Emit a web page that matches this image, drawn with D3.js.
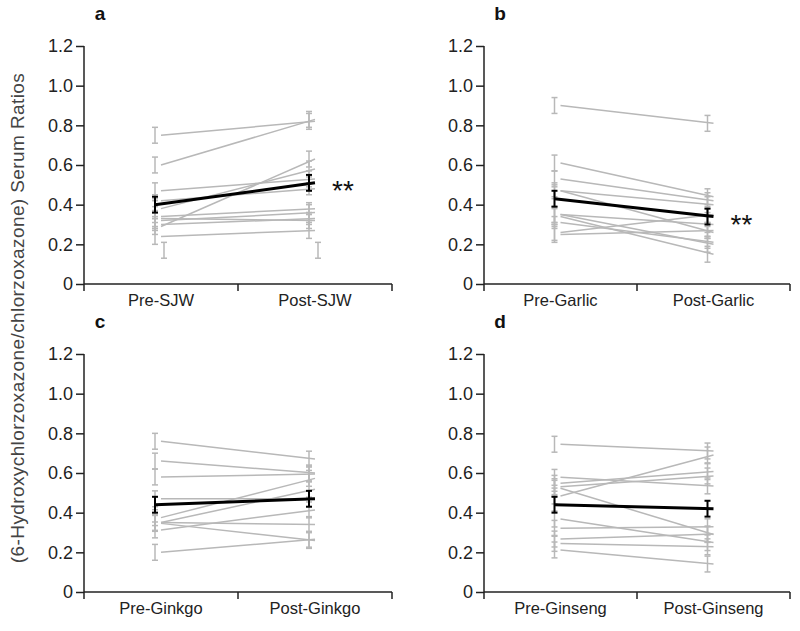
<!DOCTYPE html>
<html>
<head>
<meta charset="utf-8">
<script src="https://cdn.jsdelivr.net/npm/d3@7"></script>
<style>
  body { margin: 0; background: #fff; }
  svg { display: block; font-family: "Liberation Sans", Arial, sans-serif; }
</style>
</head>
<body>
<svg id="chart" width="800" height="631"></svg>
<script>
// ---------- DATA ----------
const yTickValues = [0, 0.2, 0.4, 0.6, 0.8, 1.0, 1.2];
const yTickLabels = ["0", "0.2", "0.4", "0.6", "0.8", "1.0", "1.2"];
const yTitle = "(6-Hydroxychlorzoxazone/chlorzoxazone) Serum Ratios";

const panelLetters = ["a", "b", "c", "d"];

const catsA = ["Pre-SJW", "Post-SJW"];
const preA  = [0.75, 0.60, 0.47, 0.42, 0.38, 0.29, 0.34, 0.32, 0.30, 0.33, 0.24];
const postA = [0.82, 0.83, 0.53, 0.48, 0.58, 0.63, 0.38, 0.36, 0.33, 0.32, 0.27];
const errA  = [0.04, 0.04, 0.04, 0.03, 0.04, 0.04, 0.03, 0.04, 0.03, 0.04, 0.04];
const meanA = [0.40, 0.51];
const meanErrA = [0.04, 0.04];
const strayA = [[0.13, 0.21], [0.13, 0.21]];   // lone grey bars below the data
const sigA = "**";

const catsB = ["Pre-Garlic", "Post-Garlic"];
const preB  = [0.90, 0.61, 0.53, 0.47, 0.47, 0.35, 0.35, 0.34, 0.31, 0.26, 0.25];
const postB = [0.81, 0.44, 0.42, 0.40, 0.26, 0.30, 0.20, 0.15, 0.21, 0.35, 0.27];
const errB  = [0.04, 0.04, 0.04, 0.04, 0.03, 0.04, 0.04, 0.04, 0.03, 0.04, 0.04];
const meanB = [0.43, 0.34];
const meanErrB = [0.04, 0.04];
const sigB = "**";

const catsC = ["Pre-Ginkgo", "Post-Ginkgo"];
const preC  = [0.76, 0.66, 0.58, 0.47, 0.375, 0.35, 0.346, 0.313, 0.35, 0.20];
const postC = [0.67, 0.60, 0.595, 0.47, 0.573, 0.518, 0.26, 0.414, 0.34, 0.266];
const errC  = [0.04, 0.04, 0.04, 0.04, 0.04, 0.04, 0.04, 0.04, 0.04, 0.04];
const meanC = [0.44, 0.47];
const meanErrC = [0.04, 0.04];
const sigC = "";

const catsD = ["Pre-Ginseng", "Post-Ginseng"];
const preD  = [0.745, 0.484, 0.578, 0.548, 0.531, 0.523, 0.368, 0.321, 0.267, 0.245, 0.212];
const postD = [0.711, 0.691, 0.535, 0.607, 0.585, 0.29, 0.249, 0.329, 0.292, 0.228, 0.141];
const errD  = [0.04, 0.04, 0.04, 0.04, 0.04, 0.04, 0.04, 0.04, 0.04, 0.04, 0.04];
const meanD = [0.44, 0.42];
const meanErrD = [0.04, 0.04];
const sigD = "";

// ---------- LAYOUT ----------
const panels = [
  {letter: panelLetters[0], cats: catsA, pre: preA, post: postA, err: errA, mean: meanA, meanErr: meanErrA, stray: strayA, sig: sigA, left: 84,  right: 392, top: 46,  bottom: 284},
  {letter: panelLetters[1], cats: catsB, pre: preB, post: postB, err: errB, mean: meanB, meanErr: meanErrB, stray: null,   sig: sigB, left: 484, right: 790, top: 46,  bottom: 284},
  {letter: panelLetters[2], cats: catsC, pre: preC, post: postC, err: errC, mean: meanC, meanErr: meanErrC, stray: null,   sig: sigC, left: 84,  right: 392, top: 354, bottom: 592},
  {letter: panelLetters[3], cats: catsD, pre: preD, post: postD, err: errD, mean: meanD, meanErr: meanErrD, stray: null,   sig: sigD, left: 484, right: 790, top: 354, bottom: 592}
];

const svg = d3.select("#chart");
const axisColor = "#222";
const grey = "#b8b8b8";
const barOffset = -6;   // error bars drawn slightly left of line ends
const cap = 3;

// y title
svg.append("text")
  .attr("transform", "translate(24,318) rotate(-90)")
  .attr("text-anchor", "middle")
  .attr("font-size", 19)
  .attr("letter-spacing", 0.4)
  .attr("fill", "#444")
  .text(yTitle);

function errBar(g, x, lo, hi, color, width) {
  g.append("line").attr("x1", x).attr("x2", x).attr("y1", lo).attr("y2", hi)
    .attr("stroke", color).attr("stroke-width", width);
  [lo, hi].forEach(yy => g.append("line")
    .attr("x1", x - cap).attr("x2", x + cap).attr("y1", yy).attr("y2", yy)
    .attr("stroke", color).attr("stroke-width", width));
}

panels.forEach(p => {
  const g = svg.append("g");
  const y = d3.scaleLinear().domain([0, 1.2]).range([p.bottom, p.top]);
  const x = d3.scalePoint().domain(p.cats).range([p.left, p.right]).padding(0.5);
  const band = d3.scaleBand().domain(p.cats).range([p.left, p.right]);

  // y axis
  const yAxis = d3.axisLeft(y).tickValues(yTickValues)
    .tickFormat((d, i) => yTickLabels[i]).tickSize(8).tickPadding(3);
  const ya = g.append("g").attr("transform", `translate(${p.left},0)`).call(yAxis);
  ya.select(".domain").attr("stroke", axisColor).attr("stroke-width", 1.5).attr("d", `M0,${p.top}V${p.bottom}`);
  ya.selectAll(".tick line").attr("stroke", axisColor).attr("stroke-width", 1.5);
  ya.selectAll(".tick text").attr("font-size", 18).attr("fill", axisColor)
    .attr("font-family", "Liberation Sans, Arial, sans-serif");

  // x axis: line, boundary ticks and centred labels
  const xa = g.append("g").attr("transform", `translate(0,${p.bottom})`);
  xa.append("line").attr("x1", p.left).attr("x2", p.right).attr("y1", 0).attr("y2", 0)
    .attr("stroke", axisColor).attr("stroke-width", 1.5);
  const bounds = p.cats.map(c => band(c)).concat([band(p.cats[p.cats.length - 1]) + band.bandwidth()]);
  bounds.forEach(bx => xa.append("line").attr("x1", bx).attr("x2", bx).attr("y1", 0).attr("y2", 7)
    .attr("stroke", axisColor).attr("stroke-width", 1.5));
  p.cats.forEach(c => xa.append("text").attr("x", x(c)).attr("y", 22)
    .attr("text-anchor", "middle").attr("font-size", 16.5).attr("fill", axisColor).text(c));

  // panel letter
  g.append("text").attr("x", p.left + 16).attr("y", p.top - 26)
    .attr("text-anchor", "middle").attr("font-size", 19).attr("font-weight", "bold")
    .attr("fill", "#111").text(p.letter);

  const x0 = x(p.cats[0]), x1 = x(p.cats[1]);

  // individual error bars
  p.pre.forEach((v, i) => errBar(g, x0 + barOffset, y(v - p.err[i]), y(v + p.err[i]), grey, 1.5));
  p.post.forEach((v, i) => errBar(g, x1 + barOffset, y(v - p.err[i]), y(v + p.err[i]), grey, 1.5));
  if (p.stray) {
    p.stray.forEach((r, i) => errBar(g, x(p.cats[i]) + 3, y(r[0]), y(r[1]), grey, 1.5));
  }

  // individual lines
  p.pre.forEach((v, i) => g.append("line")
    .attr("x1", x0).attr("x2", x1).attr("y1", y(v)).attr("y2", y(p.post[i]))
    .attr("stroke", grey).attr("stroke-width", 1.5));

  // mean line + error bars
  p.mean.forEach((m, i) => errBar(g, x(p.cats[i]) + barOffset, y(m - p.meanErr[i]), y(m + p.meanErr[i]), "#000", 2));
  g.append("line").attr("x1", x0 + barOffset).attr("x2", x1)
    .attr("y1", y(p.mean[0])).attr("y2", y(p.mean[1]))
    .attr("stroke", "#000").attr("stroke-width", 3);

  if (p.sig) {
    g.append("text").attr("x", x1 + 17).attr("y", y(p.mean[1]) + 17)
      .attr("font-size", 28).attr("fill", "#111").text(p.sig);
  }
});
</script>
</body>
</html>
